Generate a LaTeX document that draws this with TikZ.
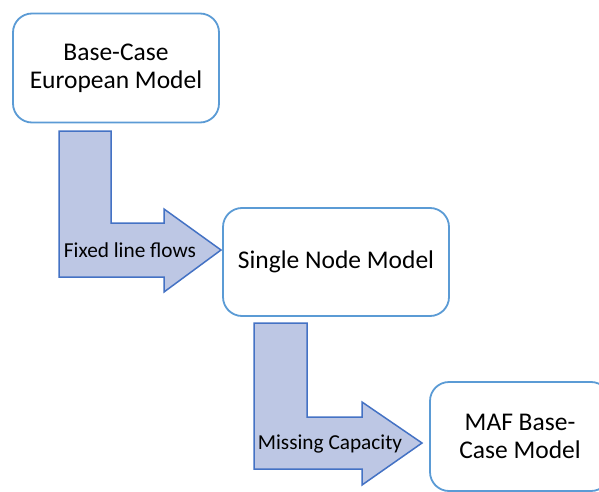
\documentclass[tikz,border=0pt]{standalone}
\usepackage{fontspec}
\setmainfont{Carlito}
\usepackage{xcolor}
\usepackage{tikz}
\usetikzlibrary{positioning}

\definecolor{boxblue}{HTML}{5B9BD5}
\definecolor{arrowline}{HTML}{4472C4}
\definecolor{arrowfill}{RGB}{189,199,228}

\tikzset{
	modelbox/.style={draw=boxblue,line width=1.8pt,rounded corners=19pt,fill=white,
		align=center,font=\fontsize{25.5}{28}\selectfont,inner sep=0pt},
	blockarrow/.style={draw=arrowline,line width=1.5pt,fill=arrowfill,line join=miter},
	arrowlabel/.style={font=\fontsize{21.3}{24}\selectfont,inner sep=0pt}
}

\begin{document}
\begin{tikzpicture}[x=1pt,y=-1pt]
	\useasboundingbox (0,0) rectangle (599,492);
	\clip (0,0) rectangle (599,492);
	% boxes
	\node[modelbox,minimum width=206pt,minimum height=109pt] (base) at (116,68) {Base-Case\\European Model};
	\node[modelbox,minimum width=226pt,minimum height=108pt] (single) at (336,262) {Single Node Model};
	\node[modelbox,minimum width=180pt,minimum height=109pt] (maf) at (520,436.5) {MAF Base-\\Case Model};
	% block arrows
	\draw[blockarrow] (59,131) -- (111,131) -- (111,223) -- (164,223) -- (164,209) -- (221,250)
		-- (164,292) -- (164,277) -- (59,277) -- cycle;
	\draw[blockarrow] (254,323) -- (307,323) -- (307,417) -- (362,417) -- (362,402) -- (422,443)
		-- (362,485) -- (362,469) -- (254,469) -- cycle;
	\node[arrowlabel] (flows) at (130,250) {Fixed line flows};
	\node[arrowlabel] (capacity) at (330,444) {Missing Capacity};
\end{tikzpicture}
\end{document}
